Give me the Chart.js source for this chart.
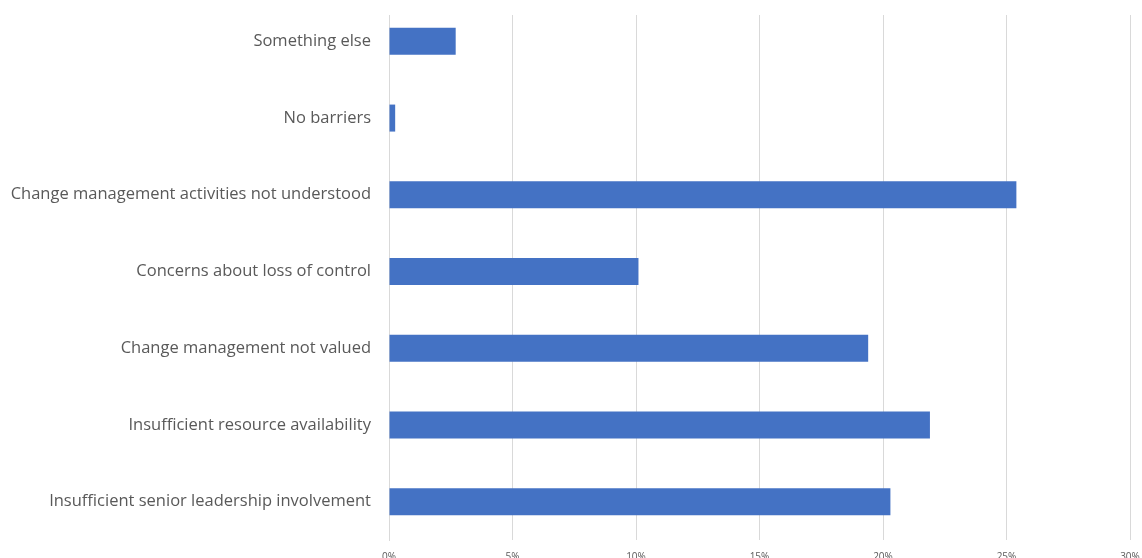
<!DOCTYPE html>
<html>
<head>
<meta charset="utf-8">
<script src="https://cdn.jsdelivr.net/npm/chart.js@4"></script>
<style>
  html, body { margin: 0; padding: 0; background: #fff; overflow: hidden; }
  #wrap { width: 1142px; height: 574px; }
</style>
</head>
<body>
<div id="wrap"><canvas id="chart"></canvas></div>
<script>
const categories = [
  'Something else',
  'No barriers',
  'Change management activities not understood',
  'Concerns about loss of control',
  'Change management not valued',
  'Insufficient resource availability',
  'Insufficient senior leadership involvement'
];
const shares = [2.7, 0.25, 25.4, 10.1, 19.4, 21.9, 20.3];
const xTicks = [0, 5, 10, 15, 20, 25, 30];

// the plot area in the original starts its gridlines a little below the first bar row
const topClip = {
  id: 'topClip',
  beforeDraw(chart) {
    const c = chart.ctx;
    c.save();
    c.beginPath();
    c.rect(0, 15, chart.width, chart.height);
    c.clip();
  },
  afterDraw(chart) {
    chart.ctx.restore();
  }
};

const ctx = document.getElementById('chart');
new Chart(ctx, {
  type: 'bar',
  data: {
    labels: categories,
    datasets: [{
      data: shares,
      backgroundColor: '#4472C4',
      borderWidth: 0,
      barPercentage: 0.352,
      categoryPercentage: 1
    }]
  },
  options: {
    indexAxis: 'y',
    responsive: true,
    maintainAspectRatio: false,
    animation: false,
    layout: { padding: { top: 3, right: 12, bottom: 0, left: 0 } },
    plugins: { legend: { display: false }, tooltip: { enabled: false } },
    scales: {
      x: {
        min: 0,
        max: 30,
        afterBuildTicks: function (axis) {
          axis.ticks = xTicks.map(v => ({ value: v }));
        },
        afterFit: function (scale) {
          scale.paddingRight = 0;
          scale.paddingLeft = 0;
        },
        grid: { color: '#d9d9d9', lineWidth: 1, drawTicks: false },
        border: { display: false },
        ticks: {
          color: '#595959',
          font: { family: 'Open Sans', size: 10 },
          padding: 11,
          maxRotation: 0,
          callback: v => v + '%'
        }
      },
      y: {
        grid: { display: false, drawTicks: false },
        border: { display: true, color: '#d9d9d9' },
        afterFit: function (scale) {
          scale.width = 389;
          scale.paddingTop = 0;
          scale.paddingBottom = 0;
        },
        ticks: {
          color: '#595959',
          font: { family: 'Open Sans', size: 16.5 },
          padding: 18
        }
      }
    }
  },
  plugins: [topClip]
});
</script>
</body>
</html>
